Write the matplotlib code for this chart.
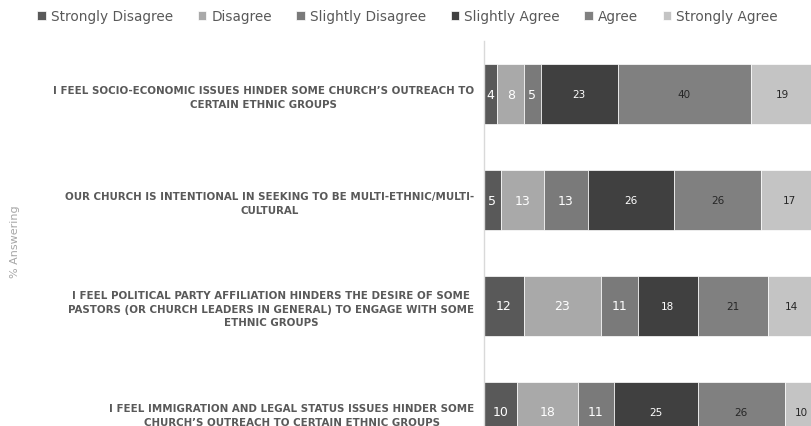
import numpy as np
import matplotlib
matplotlib.use("Agg")
import matplotlib.pyplot as plt

# ------------------------------------------------------------------
# Data (rows listed top to bottom as in the chart)
# ------------------------------------------------------------------
statements = [
    "I FEEL SOCIO-ECONOMIC ISSUES HINDER SOME CHURCH\u2019S OUTREACH TO\nCERTAIN ETHNIC GROUPS",
    "OUR CHURCH IS INTENTIONAL IN SEEKING TO BE MULTI-ETHNIC/MULTI-\nCULTURAL",
    "I FEEL POLITICAL PARTY AFFILIATION HINDERS THE DESIRE OF SOME\nPASTORS (OR CHURCH LEADERS IN GENERAL) TO ENGAGE WITH SOME\nETHNIC GROUPS",
    "I FEEL IMMIGRATION AND LEGAL STATUS ISSUES HINDER SOME\nCHURCH\u2019S OUTREACH TO CERTAIN ETHNIC GROUPS",
]
responses = ["Strongly Disagree", "Disagree", "Slightly Disagree",
             "Slightly Agree", "Agree", "Strongly Agree"]

strongly_disagree = [4, 5, 12, 10]
disagree = [8, 13, 23, 18]
slightly_disagree = [5, 13, 11, 11]
slightly_agree = [23, 26, 18, 25]
agree = [40, 26, 21, 26]
strongly_agree = [19, 17, 14, 10]

series = [strongly_disagree, disagree, slightly_disagree,
          slightly_agree, agree, strongly_agree]

# ------------------------------------------------------------------
# Style
# ------------------------------------------------------------------
colors = ["#595959", "#a9a9a9", "#7a7a7a", "#404040", "#808080", "#c4c4c4"]
label_colors = ["white", "white", "white", "white", "#262626", "#262626"]
label_sizes = [9, 9, 9, 7.5, 7.5, 7.5]

W, H = 812, 427
fig = plt.figure(figsize=(W / 100, H / 100), dpi=100)

# axes reach beyond the canvas on the right and bottom, like the source crop
ax_left, ax_right = 484, 818
ax_top, ax_bottom = 42, 42 + 4 * 106
ax = fig.add_axes([ax_left / W, 1 - ax_bottom / H,
                   (ax_right - ax_left) / W, (ax_bottom - ax_top) / H])

y = np.arange(len(statements))
left = np.zeros(len(statements))
for vals, name, col, tcol, tsize in zip(series, responses, colors,
                                        label_colors, label_sizes):
    vals = np.array(vals, dtype=float)
    bars = ax.barh(y, vals, left=left, height=0.566, color=col,
                   edgecolor="white", linewidth=0.5, label=name)
    ax.bar_label(bars, labels=[f"{int(v)}" for v in vals],
                 label_type="center", color=tcol, fontsize=tsize)
    left += vals

ax.set_xlim(0, 100)
ax.set_ylim(len(statements) - 0.5, -0.5)
ax.set_yticks(y)
ax.set_yticklabels(statements, fontsize=7.35, fontweight="bold",
                   color="#595959", linespacing=1.45)
for lab in ax.get_yticklabels():
    lab.set_multialignment("center")
ax.tick_params(axis="y", length=0, pad=7)
ax.tick_params(axis="x", length=0, labelbottom=False)
for s in ["top", "right", "bottom"]:
    ax.spines[s].set_visible(False)
ax.spines["left"].set_color("#d9d9d9")
ax.spines["left"].set_linewidth(1)

fig.text(15 / W, 1 - 242 / H, "% Answering", rotation=90,
         ha="center", va="center", fontsize=8, color="#a6a6a6")

handles, labels = ax.get_legend_handles_labels()
fig.legend(handles, labels, loc="center", bbox_to_anchor=(0.502, 1 - 17 / H),
           ncol=6, frameon=False, fontsize=9.8, labelcolor="#595959",
           handlelength=0.65, handleheight=0.65, handletextpad=0.35,
           columnspacing=1.8, borderpad=0)

fig.savefig("out.png", dpi=100)
